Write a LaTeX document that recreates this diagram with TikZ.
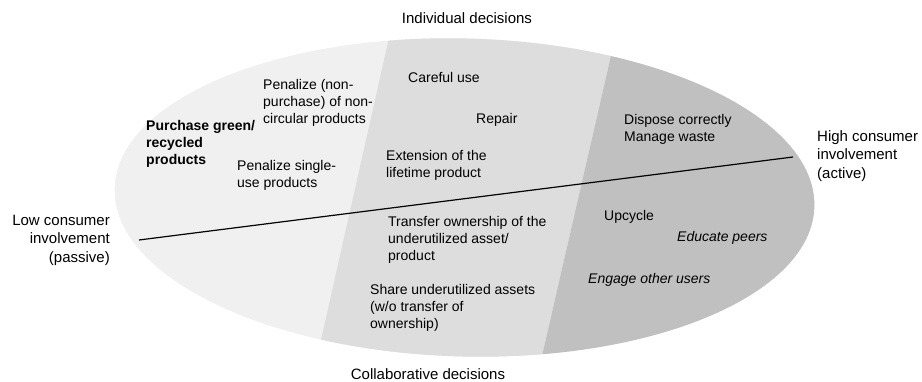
\documentclass[tikz,border=0pt]{standalone}
\usepackage{fontspec}
\setmainfont{Liberation Sans}
\definecolor{lightzone}{RGB}{240,240,240}
\definecolor{midzone}{RGB}{221,221,221}
\definecolor{darkzone}{RGB}{192,192,192}

\begin{document}
\begin{tikzpicture}[x=1pt, y=-1pt,
    txt/.style={inner sep=0pt, align=left, anchor=west, font=\fontsize{14}{16.8}\selectfont},
    txtb/.style={txt, font=\fontsize{14}{16.8}\selectfont\bfseries},
    txti/.style={txt, font=\fontsize{14}{16.8}\selectfont\itshape},
    axis/.style={inner sep=0pt, font=\fontsize{15}{18.5}\selectfont}]
    \useasboundingbox (0, 0) rectangle (922, 382);

    \begin{scope}
        \clip[rotate around={-1.5:(464.5, 197.5)}] (464.5, 197.5) ellipse [x radius=350, y radius=159];
        \fill[lightzone] (0, 0) rectangle (922, 382);
        \fill[midzone] (397.5, 0) -- (623.8, 0) -- (531.9, 400) -- (307.5, 400) -- cycle;
        \fill[darkzone] (623.8, 0) -- (922, 0) -- (922, 400) -- (531.9, 400) -- cycle;
    \end{scope}

    \coordinate (lowEnd) at (139, 240);
    \coordinate (highEnd) at (793, 157);
    \draw[line width=1.2pt] (lowEnd) -- (highEnd);

    \node[axis] (individual) at (467, 18) {Individual decisions};
    \node[axis] (collaborative) at (428, 374) {Collaborative decisions};
    \node[axis, align=right, anchor=east] (low) at (110, 240) {Low consumer\\involvement\\(passive)};
    \node[axis, align=left, anchor=west] (high) at (817, 156) {High consumer\\involvement\\(active)};

    \node[txtb] (purchase) at (146, 144) {Purchase green/\\recycled\\products};
    \node[txt] (penalizeNon) at (263, 103) {Penalize (non-\\purchase) of non-\\circular products};
    \node[txt] (penalizeSingle) at (237, 175.5) {Penalize single-\\use products};
    \node[txt] (careful) at (408, 77) {Careful use};
    \node[txt] (repair) at (476, 120) {Repair};
    \node[txt] (extension) at (386, 165.5) {Extension of the\\lifetime product};
    \node[txt] (dispose) at (624, 129.5) {Dispose correctly\\Manage waste};
    \node[txt] (transfer) at (388, 240) {Transfer ownership of the\\underutilized asset/\\product};
    \node[txt] (share) at (370, 308) {Share underutilized assets\\(w/o transfer of\\ownership)};
    \node[txt] (upcycle) at (604, 217) {Upcycle};
    \node[txti] (educate) at (677, 238) {Educate peers};
    \node[txti] (engage) at (588, 280) {Engage other users};
\end{tikzpicture}
\end{document}
